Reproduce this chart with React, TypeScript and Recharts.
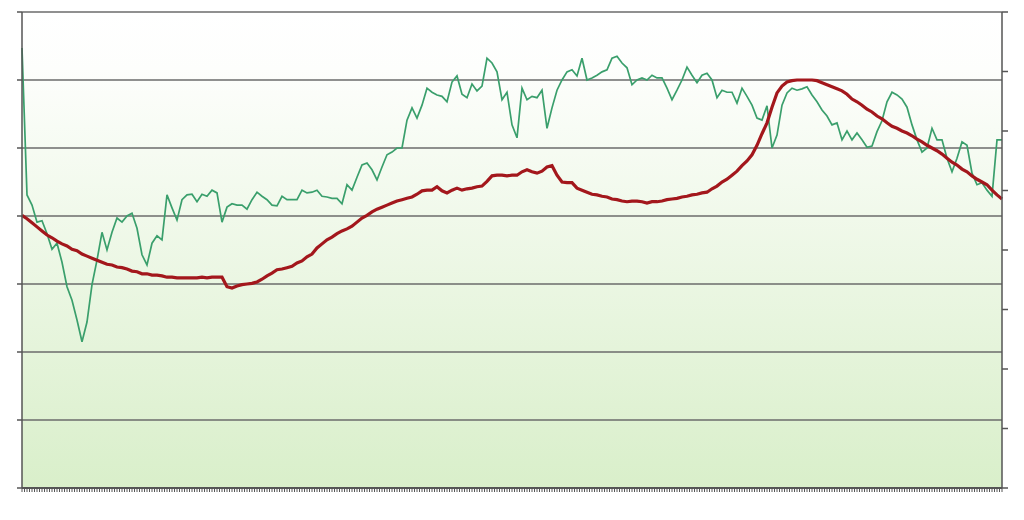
import { LineChart, Line, XAxis, YAxis, CartesianGrid } from "recharts";

// values, one reading per step (no labels on the original)
const priceValues = [
  64.7, 43.1, 41.6, 39.1, 39.3, 37.4, 35.1, 36.0, 33.2, 29.6,
  27.6, 24.7, 21.5, 24.4, 29.9, 33.5, 37.6, 35.0, 37.6, 39.7,
  39.1, 40.0, 40.4, 38.2, 34.3, 32.8, 36.0, 37.1, 36.5, 43.1,
  41.2, 39.4, 42.4, 43.1, 43.2, 42.1, 43.2, 42.9, 43.8, 43.4,
  39.1, 41.3, 41.8, 41.6, 41.6, 41.0, 42.4, 43.5, 42.9, 42.4,
  41.6, 41.5, 42.9, 42.4, 42.4, 42.4, 43.8, 43.4, 43.5, 43.8,
  42.9, 42.8, 42.6, 42.6, 41.8, 44.6, 43.8, 45.7, 47.5, 47.8,
  46.8, 45.3, 47.2, 49.0, 49.4, 50.0, 50.0, 54.1, 55.9, 54.4,
  56.3, 58.8, 58.2, 57.8, 57.6, 56.8, 59.7, 60.6, 57.9, 57.4,
  59.4, 58.4, 59.1, 63.2, 62.5, 61.2, 57.1, 58.2, 53.4, 51.5,
  58.8, 57.1, 57.6, 57.4, 58.5, 52.9, 55.9, 58.5, 60.0, 61.2,
  61.5, 60.6, 63.2, 60.0, 60.3, 60.7, 61.2, 61.5, 63.2, 63.5,
  62.5, 61.8, 59.3, 60.0, 60.3, 60.0, 60.7, 60.3, 60.3, 58.8,
  57.1, 58.5, 60.0, 61.9, 60.7, 59.6, 60.7, 61.0, 60.0, 57.4,
  58.5, 58.2, 58.2, 56.6, 58.8, 57.6, 56.3, 54.4, 54.1, 56.2,
  50.0, 51.9, 56.3, 58.1, 58.8, 58.5, 58.7, 59.0, 57.8, 56.8,
  55.6, 54.7, 53.4, 53.7, 51.2, 52.5, 51.2, 52.2, 51.2, 50.1,
  50.3, 52.4, 54.0, 56.8, 58.2, 57.8, 57.2, 56.0, 53.4, 51.2,
  49.4, 50.0, 52.9, 51.2, 51.2, 48.5, 46.5, 48.5, 50.9, 50.4,
  46.3, 44.6, 44.9, 43.8, 42.9, 51.2, 51.2,
];

const averageValues = [
  40.1, 39.6, 39.0, 38.4, 37.8, 37.2, 36.8, 36.3, 35.9, 35.6,
  35.1, 34.9, 34.4, 34.1, 33.8, 33.5, 33.2, 32.9, 32.8, 32.5,
  32.4, 32.2, 31.9, 31.8, 31.5, 31.5, 31.3, 31.3, 31.2, 31.0,
  31.0, 30.9, 30.9, 30.9, 30.9, 30.9, 31.0, 30.9, 31.0, 31.0,
  31.0, 29.6, 29.4, 29.7, 29.9, 30.0, 30.1, 30.3, 30.7, 31.2,
  31.6, 32.1, 32.2, 32.4, 32.6, 33.1, 33.4, 34.0, 34.4, 35.3,
  35.9, 36.5, 36.9, 37.4, 37.8, 38.1, 38.5, 39.1, 39.7, 40.1,
  40.6, 41.0, 41.3, 41.6, 41.9, 42.2, 42.4, 42.6, 42.8, 43.2,
  43.7, 43.8, 43.8, 44.3, 43.7, 43.4, 43.8, 44.1, 43.8, 44.0,
  44.1, 44.3, 44.4, 45.1, 45.9, 46.0, 46.0, 45.9, 46.0, 46.0,
  46.5, 46.8, 46.5, 46.3, 46.6, 47.2, 47.4, 46.0, 45.0, 44.9,
  44.9, 44.1, 43.8, 43.5, 43.2, 43.1, 42.9, 42.8, 42.5, 42.4,
  42.2, 42.1, 42.2, 42.2, 42.1, 41.9, 42.1, 42.1, 42.2, 42.4,
  42.5, 42.6, 42.8, 42.9, 43.1, 43.2, 43.4, 43.5, 44.0, 44.4,
  45.0, 45.4, 46.0, 46.6, 47.4, 48.1, 49.0, 50.4, 52.1, 53.7,
  56.0, 58.1, 59.1, 59.7, 59.9, 60.0, 60.0, 60.0, 60.0, 59.9,
  59.6, 59.3, 59.0, 58.7, 58.4, 57.9, 57.2, 56.8, 56.3, 55.7,
  55.3, 54.7, 54.3, 53.7, 53.2, 52.9, 52.5, 52.2, 51.8, 51.3,
  50.9, 50.4, 50.0, 49.6, 49.1, 48.5, 47.9, 47.5, 46.9, 46.5,
  45.9, 45.4, 45.0, 44.6, 43.8, 43.1, 42.5,
];

const leftTicks = [0, 10, 20, 30, 40, 50, 60, 70];
const rightTicks = [0, 10, 20, 30, 40, 50, 60, 70, 80];

const data = priceValues.map((p, i) => ({ idx: i, price: p, avg: averageValues[i] }));

const lastIdx = priceValues.length - 1;
// dense tick marks along the bottom axis, two per step
const bottomTicks = Array.from({ length: lastIdx * 2 + 1 }, (_, i) => i / 2);

// the original has no tick labels, only the marks
const NoLabel = () => <g />;

export default function App() {
  return (
    <div style={{ position: "absolute", left: 0, top: 0, width: 1024, height: 520, background: "#fff" }}>
      <LineChart width={1024} height={520} data={data} margin={{ top: 12, right: 21, bottom: 26, left: 21 }}>
        <defs>
          <linearGradient id="bg" x1="0" y1="0" x2="0" y2="1">
            <stop offset="0%" stopColor="#ffffff" />
            <stop offset="12%" stopColor="#fdfefc" />
            <stop offset="100%" stopColor="#d9efca" />
          </linearGradient>
        </defs>
        <CartesianGrid vertical={false} fill="url(#bg)" stroke="#6b6b6b" strokeWidth={1.5} yAxisId="left" />
        <XAxis
          dataKey="idx"
          type="number"
          domain={[0, lastIdx]}
          ticks={bottomTicks}
          interval={0}
          height={6}
          tick={NoLabel}
          tickSize={4}
          axisLine={{ stroke: "#555", strokeWidth: 2 }}
          tickLine={{ stroke: "#555", strokeWidth: 1 }}
        />
        <YAxis
          yAxisId="left"
          domain={[0, 70]}
          ticks={leftTicks}
          interval={0}
          width={1}
          tick={NoLabel}
          tickSize={5}
          axisLine={{ stroke: "#555", strokeWidth: 1.5 }}
          tickLine={{ stroke: "#555", strokeWidth: 1.5 }}
        />
        <YAxis
          yAxisId="right"
          orientation="right"
          domain={[0, 80]}
          ticks={rightTicks}
          interval={0}
          width={1}
          tick={NoLabel}
          tickSize={6}
          axisLine={{ stroke: "#555", strokeWidth: 1.5 }}
          tickLine={{ stroke: "#555", strokeWidth: 1.5 }}
        />
        {/* invisible series so the right-hand scale gets its tick marks */}
        <Line yAxisId="right" type="linear" dataKey="avg" stroke="none" dot={false} activeDot={false} legendType="none" isAnimationActive={false} />
        <Line yAxisId="left" type="linear" dataKey="price" stroke="#3a9f6c" strokeWidth={1.7} dot={false} isAnimationActive={false} />
        <Line yAxisId="left" type="linear" dataKey="avg" stroke="#a3171c" strokeWidth={3.2} dot={false} isAnimationActive={false} />
      </LineChart>
    </div>
  );
}
